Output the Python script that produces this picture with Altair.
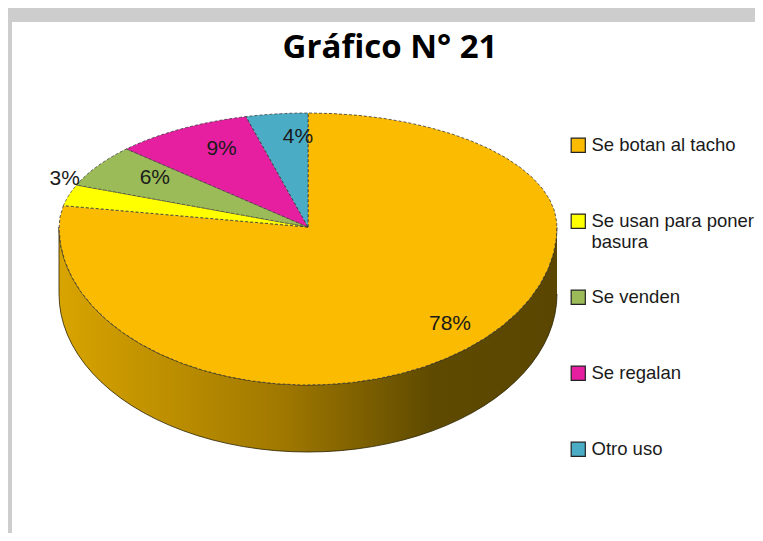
import altair as alt
import pandas as pd

# ---- data ----
categorias = ["Se botan al tacho", "Se usan para poner basura", "Se venden", "Se regalan", "Otro uso"]
valores = [78, 3, 6, 9, 4]
colores = ["#FABB00", "#FFFF00", "#9BBB59", "#E51FA0", "#4BACC6"]
titulo = "Gráfico N° 21"

df = pd.DataFrame({"categoria": categorias, "valor": valores, "orden": list(range(len(categorias)))})

# ---- layout constants (plot-area pixels) ----
W, H = 743, 511
CX, CY = 296, 205          # apex of the pie
RX, RYT, RYB = 249, 114, 158
DZ = 67                    # thickness of the 3D side
N = 48
LSHIFT = 15                # label horizontal shift
FONT = "'Liberation Sans', Arial, sans-serif"

xs = alt.X("px:Q", scale=alt.Scale(domain=[0, W], nice=False, zero=False), axis=None)
ys = alt.Y("py:Q", scale=alt.Scale(domain=[0, H], nice=False, zero=False, reverse=True), axis=None)

def ry(a):
    return f"(cos({a}) > 0 ? {RYT} : {RYB})"

base = (
    alt.Chart(df)
    .transform_joinaggregate(total="sum(valor)")
    .transform_window(acum="sum(valor)", sort=[alt.SortField("orden")], frame=[None, 0])
    .transform_calculate(
        a0="2*PI*(datum.acum - datum.valor)/datum.total",
        a1="2*PI*datum.acum/datum.total",
    )
)

# side (visible front half of the cylinder)
side = (
    base.transform_calculate(s0="max(datum.a0, PI/2)", s1="min(datum.a1, 3*PI/2)")
    .transform_filter("datum.s1 > datum.s0")
    .transform_calculate(paso=f"sequence(0, {2*N+2})")
    .transform_flatten(["paso"])
    .transform_calculate(
        abajo=f"datum.paso > {N}",
        t=f"datum.paso > {N} ? ({2*N+1} - datum.paso)/{N} : datum.paso/{N}",
    )
    .transform_calculate(ang="datum.s0 + (datum.s1 - datum.s0)*datum.t")
    .transform_calculate(
        px=f"{CX} + {RX}*sin(datum.ang)",
        py=f"{CY} - {ry('datum.ang')}*cos(datum.ang) + (datum.abajo ? {DZ} : 0)",
    )
    .mark_line(
        fill=alt.Gradient(
            gradient="linear",
            stops=[
                alt.GradientStop(offset=0, color="#D8A400"),
                alt.GradientStop(offset=0.45, color="#A07800"),
                alt.GradientStop(offset=0.75, color="#5E4A00"),
                alt.GradientStop(offset=1, color="#5A4600"),
            ],
            x1=0, x2=1, y1=0, y2=0,
        ),
        stroke="#2a2200",
        strokeWidth=0.8,
    )
    .encode(x=xs, y=ys, order="paso:Q", detail="categoria:N")
)

# top face slices
top = (
    base.transform_calculate(paso=f"sequence(0, {N+3})")
    .transform_flatten(["paso"])
    .transform_calculate(
        t=f"clamp(datum.paso - 1, 0, {N})/{N}",
        centro=f"datum.paso == 0 || datum.paso == {N+2}",
    )
    .transform_calculate(ang="datum.a0 + (datum.a1 - datum.a0)*datum.t")
    .transform_calculate(
        px=f"datum.centro ? {CX} : {CX} + {RX}*sin(datum.ang)",
        py=f"datum.centro ? {CY} : {CY} - {ry('datum.ang')}*cos(datum.ang)",
    )
    .mark_line(stroke="#3a3a3a", strokeWidth=0.8, strokeDash=[3, 2])
    .encode(
        x=xs,
        y=ys,
        order="paso:Q",
        fill=alt.Fill(
            "categoria:N",
            sort=categorias,
            scale=alt.Scale(domain=categorias, range=colores),
            legend=alt.Legend(
                title=None,
                orient="none",
                legendX=557,
                legendY=114,
                symbolType="square",
                symbolSize=200,
                symbolStrokeColor="#222222",
                symbolStrokeWidth=1.2,
                symbolOpacity=1,
                labelFont=FONT,
                labelFontSize=18.5,
                labelColor="#1a1a1a",
                labelOffset=4,
                labelLimit=300,
                rowPadding=35,
                padding=0,
                labelExpr="datum.label == 'Se usan para poner basura' ? ['Se usan para poner', 'basura'] : [datum.label, '']",
            ),
        ),
    )
)

labels = (
    base.transform_calculate(
        mid="(datum.a0 + datum.a1)/2",
        fx="datum.valor < 3.5 ? 1.08 : 0.8",
        fy="datum.valor < 3.5 ? 1.5 : 0.8",
    )
    .transform_calculate(
        px=f"{CX + LSHIFT} + {RX}*datum.fx*sin(datum.mid)",
        py=f"{CY} - {ry('datum.mid')}*datum.fy*cos(datum.mid)",
        etiqueta="format(datum.valor, 'd') + '%'",
    )
    .mark_text(font=FONT, fontSize=21, color="#1a1a1a", baseline="middle", align="center")
    .encode(x=xs, y=ys, text="etiqueta:N")
)

title = (
    alt.Chart(pd.DataFrame({"titulo": [titulo]}))
    .mark_text(font="Open Sans", fontSize=33, fontWeight="bold", color="#000000",
               align="center", baseline="alphabetic")
    .encode(text="titulo:N", x=alt.value(378), y=alt.value(36))
)

chart = (
    alt.layer(side, top, labels, title)
    .properties(
        width=W,
        height=H,
        padding={"left": 4, "top": 14, "right": 0, "bottom": 0},
        autosize=alt.AutoSizeParams(type="none"),
        background="#cdcdcd",
    )
    .configure_view(fill="white", stroke=None)
)

chart.save("out.html", embed_options={"renderer": "svg", "actions": False})
